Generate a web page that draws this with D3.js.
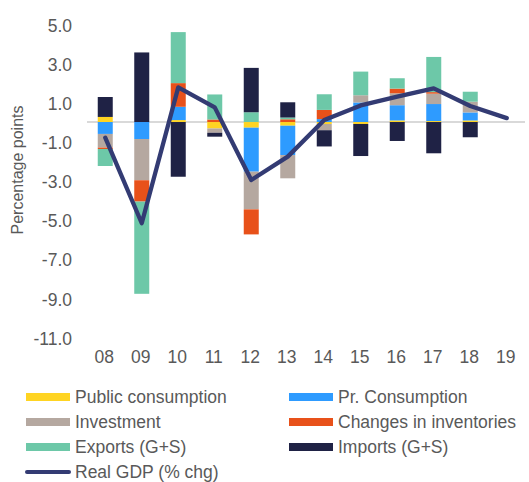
<!DOCTYPE html>
<html>
<head>
<meta charset="utf-8">
<script src="https://cdn.jsdelivr.net/npm/d3@7"></script>
<style>
  body { margin: 0; background: #fff; }
  text { font-family: "Liberation Sans", Arial, sans-serif; fill: #595959; }
</style>
</head>
<body>
<svg id="chart" width="529" height="482"></svg>
<script>
var years = ["08", "09", "10", "11", "12", "13", "14", "15", "16", "17", "18", "19"];
var publicCons = [0.26, 0, 0.1, -0.33, -0.29, -0.19, -0.1, -0.1, 0.08, 0.05, 0.08, 0];
var privCons = [-0.61, -0.87, 0.68, 0, -2.25, -1.5, 0.15, 1.0, 0.78, 0.87, 0.41, 0];
var investment = [-0.7, -2.11, 0, -0.22, -1.93, -1.19, -0.32, 0.37, 0.61, 0.53, 0.55, 0];
var inventories = [-0.07, -1.09, 1.21, 0.13, -1.28, 0.14, 0.47, 0, 0.24, 0.08, 0, 0];
var exportsGS = [-0.87, -4.72, 2.61, 1.28, 0.5, 0.09, 0.8, 1.21, 0.53, 1.8, 0.51, 0];
var importsGS = [1.02, 3.56, -2.8, -0.2, 2.27, 0.78, -0.83, -1.64, -0.97, -1.6, -0.78, 0];
var realGdp = [-0.8, -5.18, 1.77, 0.75, -2.97, -1.77, 0.1, 0.85, 1.3, 1.72, 0.82, 0.2];
var yTicks = [5, 3, 1, -1, -3, -5, -7, -9, -11];

var seriesNames = ["Public consumption", "Pr. Consumption", "Investment", "Changes in inventories", "Exports (G+S)", "Imports (G+S)"];
var seriesKeys = ["pub", "priv", "inv", "chg", "exp", "imp"];
var colors = ["#FFD422", "#2E9BFF", "#B5A8A0", "#E8511A", "#6DC8A8", "#1F2245"];
var lineColor = "#333B73";

var svg = d3.select("#chart");

// build rows for the stack
var rows = years.map(function(y, i) {
  return { year: y, pub: publicCons[i], priv: privCons[i], inv: investment[i],
           chg: inventories[i], exp: exportsGS[i], imp: importsGS[i] };
});

var x = d3.scaleBand().domain(years).range([87, 525]).padding(0);
var y = d3.scaleLinear().domain([-11, 5]).range([337, 24.3]);
var barW = 15;

var stack = d3.stack().keys(seriesKeys).offset(d3.stackOffsetDiverging);
var layers = stack(rows);

// zero line
svg.append("line")
    .attr("x1", 87).attr("x2", 525)
    .attr("y1", y(0)).attr("y2", y(0))
    .attr("stroke", "#D9D9D9")
    .attr("stroke-width", 2);

svg.append("g")
  .selectAll("g")
  .data(layers)
  .enter().append("g")
    .attr("fill", function(d, i) { return colors[i]; })
  .selectAll("rect")
  .data(function(d) { return d; })
  .enter().append("rect")
    .attr("x", function(d) { return x(d.data.year) + x.bandwidth() / 2 - barW / 2; })
    .attr("width", barW)
    .attr("y", function(d) { return y(Math.max(d[0], d[1])); })
    .attr("height", function(d) { return Math.abs(y(d[0]) - y(d[1])); });

var line = d3.line()
    .x(function(d, i) { return x(years[i]) + x.bandwidth() / 2; })
    .y(function(d) { return y(d); });

svg.append("path")
    .datum(realGdp)
    .attr("d", line)
    .attr("fill", "none")
    .attr("stroke", lineColor)
    .attr("stroke-width", 4.3)
    .attr("stroke-linejoin", "round")
    .attr("stroke-linecap", "round");

// y axis (plain hyphen for negatives like the original)
var fmt = function(d) { return d3.format(".1f")(d).replace("\u2212", "-"); };
var yAxis = svg.append("g")
    .attr("transform", "translate(72,1.5)")
    .call(d3.axisLeft(y).tickValues(yTicks).tickSize(0).tickPadding(0).tickFormat(fmt));
yAxis.select(".domain").remove();
yAxis.selectAll("text").style("font-size", "17.5px").attr("fill", "#595959");

// x axis
var xAxis = svg.append("g")
    .attr("transform", "translate(-1,345)")
    .call(d3.axisBottom(x).tickSize(0).tickPadding(6));
xAxis.select(".domain").remove();
xAxis.selectAll("text").style("font-size", "17.5px").attr("fill", "#595959");

svg.append("text")
    .attr("transform", "translate(23,170) rotate(-90)")
    .attr("text-anchor", "middle")
    .style("font-size", "16px")
    .text("Percentage points");

// legend
var legendPos = [[26, 397], [289, 397], [26, 422], [289, 422], [26, 447], [289, 447]];
seriesNames.forEach(function(name, i) {
  var p = legendPos[i];
  svg.append("rect")
      .attr("x", p[0]).attr("y", p[1] - 4)
      .attr("width", 44).attr("height", 8)
      .attr("fill", colors[i]);
  svg.append("text")
      .attr("x", p[0] + 49).attr("y", p[1])
      .attr("dy", "0.35em")
      .style("font-size", "17.5px")
      .text(name);
});
svg.append("line")
    .attr("x1", 27).attr("x2", 69)
    .attr("y1", 472).attr("y2", 472)
    .attr("stroke", lineColor)
    .attr("stroke-width", 4)
    .attr("stroke-linecap", "round");
svg.append("text")
    .attr("x", 75).attr("y", 472)
    .attr("dy", "0.35em")
    .style("font-size", "17.5px")
    .text("Real GDP (% chg)");
</script>
</body>
</html>
